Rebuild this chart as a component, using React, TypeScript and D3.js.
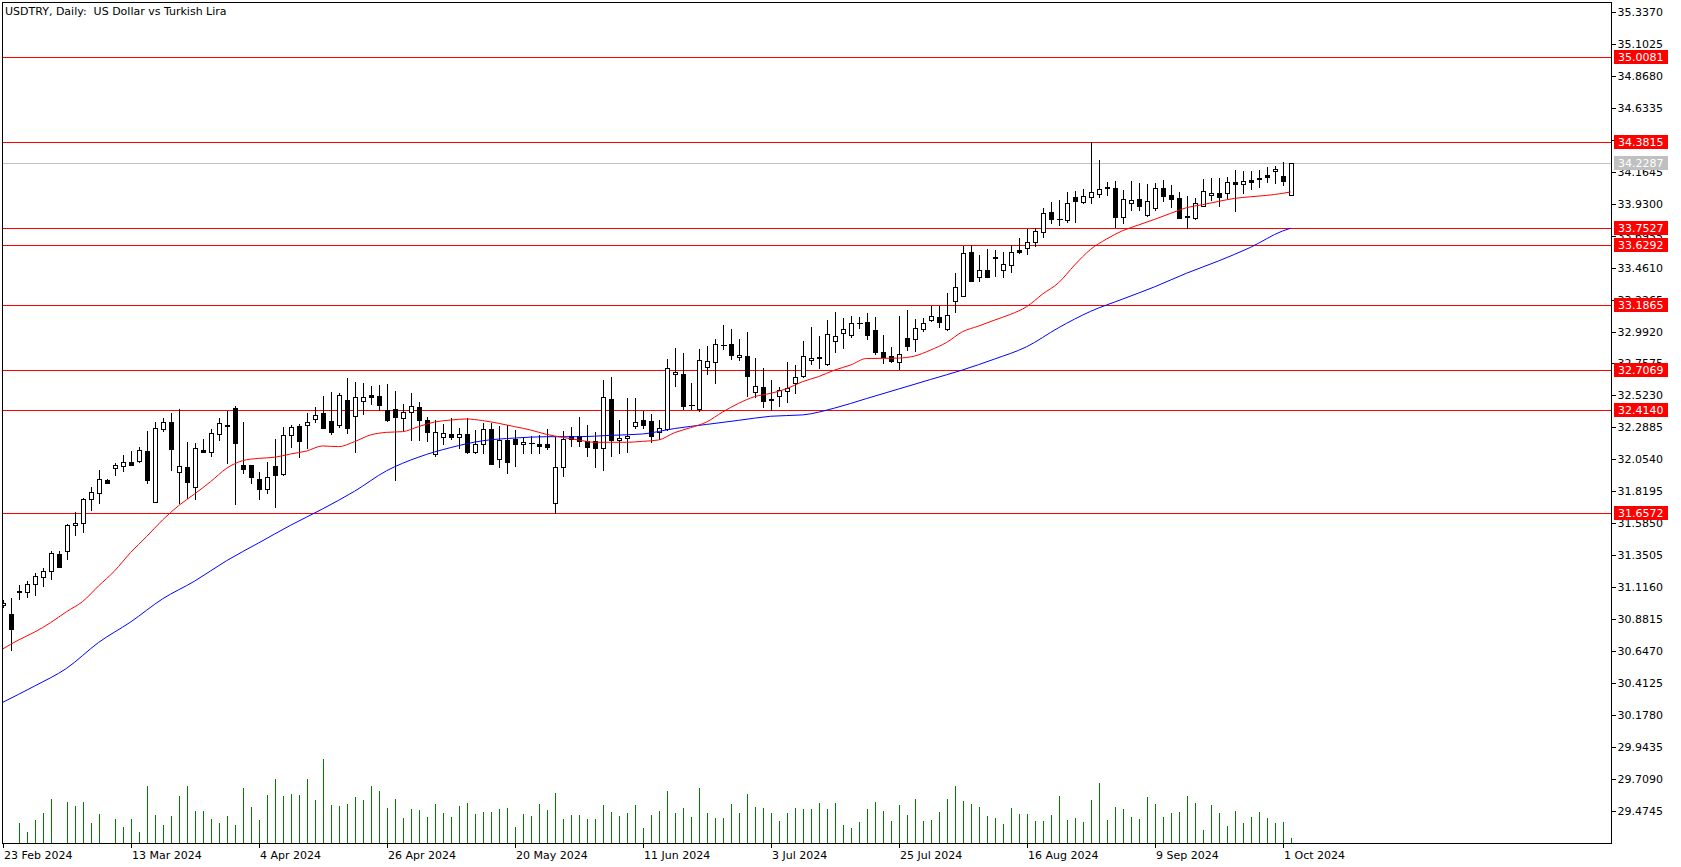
import { useEffect, useRef } from "react";
import * as d3 from "d3";

const title = "USDTRY, Daily:  US Dollar vs Turkish Lira";

// one label every 16 bars, starting at bar 0
const dateLabels = [
  "23 Feb 2024", "13 Mar 2024", "4 Apr 2024", "26 Apr 2024", "20 May 2024", "11 Jun 2024",
  "3 Jul 2024", "25 Jul 2024", "16 Aug 2024", "9 Sep 2024", "1 Oct 2024",
];
const dateStep = 16;

const priceTicks = [
  35.337, 35.1025, 34.868, 34.6335, 34.399, 34.1645, 33.93, 33.6955, 33.461, 33.2265,
  32.992, 32.7575, 32.523, 32.2885, 32.054, 31.8195, 31.585, 31.3505, 31.116, 30.8815,
  30.647, 30.4125, 30.178, 29.9435, 29.709, 29.4745,
];

const levels = [35.0081, 34.3815, 33.7527, 33.6292, 33.1865, 32.7069, 32.414, 31.6572];
const lastPrice = 34.2287;

const open = [
  30.982, 30.919, 31.088, 31.083, 31.137, 31.193, 31.232, 31.357, 31.379, 31.570,
  31.584, 31.761, 31.805, 31.900, 31.988, 32.008, 32.032, 32.044, 32.115, 31.743,
  32.279, 32.328, 31.959, 31.998, 31.849, 32.123, 32.106, 32.238, 32.304, 32.428,
  32.010, 32.010, 31.910, 31.834, 32.003, 31.944, 32.230, 32.296, 32.304, 32.353,
  32.394, 32.336, 32.309, 32.487, 32.370, 32.480, 32.524, 32.517, 32.414, 32.421,
  32.360, 32.399, 32.436, 32.340, 32.095, 32.218, 32.237, 32.215, 32.237, 32.110,
  32.164, 32.274, 32.054, 32.196, 32.203, 32.164, 32.171, 32.164, 32.166, 31.731,
  31.995, 32.223, 32.223, 32.188, 32.188, 32.139, 32.494, 32.193, 32.210, 32.301,
  32.340, 32.333, 32.252, 32.274, 32.678, 32.680, 32.455, 32.426, 32.729, 32.766,
  32.893, 32.900, 32.802, 32.812, 32.548, 32.582, 32.497, 32.516, 32.553, 32.612,
  32.663, 32.780, 32.802, 32.751, 32.920, 32.979, 32.964, 33.057, 33.064, 33.001,
  32.842, 32.815, 32.768, 32.942, 32.935, 33.008, 33.074, 33.096, 33.013, 33.218,
  33.255, 33.573, 33.392, 33.441, 33.536, 33.443, 33.478, 33.588, 33.602, 33.651,
  33.720, 33.869, 33.820, 33.810, 33.977, 33.940, 33.977, 33.999, 34.053, 34.043,
  33.835, 33.933, 33.962, 33.845, 33.901, 34.043, 33.991, 33.972, 33.837, 33.823,
  33.916, 33.991, 34.009, 34.006, 34.089, 34.072, 34.104, 34.116, 34.141, 34.168,
  34.131, 33.996,
];

const high = [
  31.022, 31.039, 31.132, 31.164, 31.217, 31.254, 31.384, 31.384, 31.582, 31.665,
  31.773, 31.854, 31.976, 31.907, 32.030, 32.086, 32.113, 32.142, 32.265, 32.328,
  32.358, 32.397, 32.424, 32.181, 32.172, 32.203, 32.274, 32.355, 32.411, 32.446,
  32.328, 32.012, 31.961, 32.037, 32.206, 32.294, 32.309, 32.311, 32.397, 32.441,
  32.519, 32.548, 32.544, 32.651, 32.622, 32.612, 32.595, 32.597, 32.605, 32.556,
  32.463, 32.539, 32.475, 32.365, 32.345, 32.313, 32.355, 32.284, 32.357, 32.269,
  32.318, 32.318, 32.301, 32.303, 32.269, 32.220, 32.225, 32.230, 32.276, 32.215,
  32.259, 32.289, 32.365, 32.308, 32.257, 32.636, 32.656, 32.342, 32.504, 32.502,
  32.409, 32.389, 32.342, 32.790, 32.871, 32.834, 32.614, 32.864, 32.883, 32.935,
  33.040, 33.010, 32.937, 32.988, 32.798, 32.724, 32.636, 32.582, 32.768, 32.744,
  32.925, 33.027, 32.959, 33.074, 33.133, 33.094, 33.106, 33.101, 33.130, 33.096,
  32.966, 32.876, 33.106, 33.150, 33.084, 33.091, 33.179, 33.179, 33.272, 33.419,
  33.620, 33.629, 33.551, 33.598, 33.590, 33.573, 33.624, 33.681, 33.742, 33.752,
  33.898, 33.943, 33.957, 34.013, 34.023, 34.035, 34.380, 34.251, 34.087, 34.094,
  34.031, 34.097, 34.080, 34.072, 34.084, 34.101, 34.067, 34.016, 33.989, 33.969,
  34.109, 34.119, 34.116, 34.128, 34.177, 34.170, 34.172, 34.180, 34.202, 34.207,
  34.234, 34.2287,
];

const low = [
  30.973, 30.655, 31.027, 31.046, 31.058, 31.125, 31.173, 31.261, 31.325, 31.499,
  31.523, 31.682, 31.736, 31.878, 31.942, 31.971, 32.013, 32.032, 31.883, 31.739,
  32.265, 31.976, 31.736, 31.773, 31.765, 32.104, 32.081, 32.196, 32.030, 31.724,
  31.956, 31.883, 31.765, 31.810, 31.702, 31.942, 32.142, 32.074, 32.135, 32.331,
  32.285, 32.240, 32.289, 32.250, 32.110, 32.387, 32.458, 32.416, 32.336, 31.905,
  32.262, 32.198, 32.194, 32.186, 32.078, 32.166, 32.201, 32.135, 32.103, 32.103,
  32.098, 32.017, 32.000, 31.956, 32.007, 32.098, 32.103, 32.103, 32.127, 31.657,
  31.934, 32.154, 32.154, 32.076, 32.000, 31.978, 32.081, 32.103, 32.110, 32.284,
  32.284, 32.183, 32.201, 32.272, 32.592, 32.426, 32.426, 32.409, 32.680, 32.617,
  32.866, 32.793, 32.783, 32.519, 32.514, 32.440, 32.416, 32.448, 32.475, 32.543,
  32.661, 32.751, 32.727, 32.749, 32.844, 32.869, 32.954, 33.015, 32.939, 32.827,
  32.758, 32.771, 32.714, 32.854, 32.849, 32.998, 33.067, 33.027, 33.001, 33.138,
  33.250, 33.360, 33.365, 33.390, 33.402, 33.390, 33.431, 33.568, 33.558, 33.620,
  33.688, 33.791, 33.776, 33.798, 33.798, 33.935, 33.938, 33.977, 33.994, 33.757,
  33.791, 33.884, 33.884, 33.840, 33.881, 33.952, 33.903, 33.822, 33.749, 33.818,
  33.911, 33.957, 33.916, 33.969, 33.874, 34.006, 34.040, 34.050, 34.092, 34.080,
  34.067, 33.994,
];

const close = [
  31.002, 30.806, 31.078, 31.137, 31.198, 31.235, 31.364, 31.266, 31.572, 31.587,
  31.763, 31.812, 31.907, 31.883, 32.010, 32.032, 32.015, 32.120, 31.905, 32.282,
  32.328, 32.132, 32.003, 31.885, 32.135, 32.106, 32.245, 32.318, 32.301, 32.172,
  31.986, 31.927, 31.834, 31.924, 31.937, 32.230, 32.289, 32.186, 32.326, 32.377,
  32.287, 32.257, 32.526, 32.282, 32.509, 32.509, 32.509, 32.455, 32.340, 32.362,
  32.402, 32.443, 32.340, 32.252, 32.252, 32.245, 32.215, 32.237, 32.110, 32.164,
  32.274, 32.022, 32.196, 32.037, 32.164, 32.179, 32.172, 32.154, 32.147, 31.995,
  32.205, 32.205, 32.191, 32.147, 32.139, 32.509, 32.198, 32.210, 32.223, 32.325,
  32.308, 32.223, 32.281, 32.722, 32.695, 32.445, 32.450, 32.780, 32.773, 32.900,
  32.891, 32.822, 32.817, 32.668, 32.590, 32.484, 32.492, 32.560, 32.575, 32.656,
  32.810, 32.795, 32.800, 32.974, 32.957, 33.008, 33.052, 33.054, 32.969, 32.844,
  32.807, 32.776, 32.829, 32.888, 33.015, 33.052, 33.108, 33.064, 33.113, 33.316,
  33.566, 33.365, 33.441, 33.394, 33.532, 33.485, 33.573, 33.578, 33.646, 33.732,
  33.859, 33.818, 33.815, 33.933, 33.952, 33.984, 34.013, 34.035, 34.048, 33.835,
  33.962, 33.955, 33.916, 33.950, 34.043, 33.989, 33.967, 33.827, 33.832, 33.935,
  34.021, 34.009, 33.977, 34.087, 34.072, 34.094, 34.087, 34.114, 34.128, 34.185,
  34.099, 34.2287,
];

// tick volume, thousands
const volume = [
  0, 0, 20.3, 11.3, 23, 30.3, 44.3, 0, 41.3, 37,
  41.3, 20.3, 29.3, 0, 24, 16.3, 24, 11.3, 57, 28.3,
  18.3, 27.3, 47.3, 57, 32.3, 32.3, 24, 20.3, 27.3, 18.3,
  55, 36.3, 23, 48.3, 64, 47.3, 49, 48.3, 64, 43.3,
  84, 38.3, 37.3, 39.3, 46.3, 43.3, 57, 52, 35.3, 44.3,
  25.3, 34.3, 33.3, 26.3, 39.3, 30.3, 26.3, 37.3, 40.3, 29.3,
  31.3, 31.3, 34.3, 35.3, 16.3, 29.3, 27.3, 39.3, 33.3, 50.3,
  24.3, 28.3, 28.3, 24.3, 24.3, 38.3, 31.3, 27.3, 30.3, 38.3,
  15.3, 28.3, 32.3, 52.3, 30.3, 35.3, 26.3, 55.3, 30.3, 25.3,
  25.3, 39.3, 30.3, 49, 36.3, 35.3, 30.3, 22.3, 30.3, 35.3,
  34.3, 34.3, 40.3, 34.3, 40.3, 18.3, 15.3, 21.3, 34.3, 41.3,
  32.3, 22.3, 38.3, 28.3, 44.3, 22.3, 23.3, 31.3, 44.3, 57.3,
  42.3, 39.3, 36.3, 27.3, 25.3, 19.3, 35.3, 29.3, 29.3, 22.3,
  22.3, 28.3, 47.3, 23.3, 25.3, 21.3, 43.3, 60, 23.3, 36.3,
  34.3, 26.3, 24.3, 46.3, 39.3, 26.3, 30.3, 31.3, 47.3, 40.3,
  13.3, 38.3, 30.3, 17.3, 32.3, 20.3, 26.3, 31.3, 25.3, 20.3,
  21.3, 5.3,
];

// moving averages: [bar, value]
const maFast: [number, number][] = [
  [0, 30.662], [2, 30.728], [4, 30.786], [6, 30.855], [8, 30.936], [10, 31.01], [12, 31.125],
  [14, 31.235], [16, 31.37], [18, 31.487], [20, 31.609], [22, 31.714], [24, 31.8], [26, 31.89],
  [28, 31.988], [30, 32.044], [32, 32.061], [34, 32.069], [36, 32.093], [38, 32.115], [40, 32.152],
  [42, 32.147], [44, 32.184], [46, 32.233], [48, 32.252], [50, 32.257], [52, 32.294], [54, 32.328],
  [56, 32.342], [58, 32.35], [60, 32.338], [62, 32.318], [64, 32.294], [66, 32.269], [68, 32.237],
  [70, 32.215], [72, 32.196], [74, 32.179], [76, 32.179], [78, 32.179], [80, 32.186], [82, 32.196],
  [84, 32.25], [86, 32.286], [88, 32.328], [90, 32.401], [92, 32.465], [94, 32.514], [96, 32.538],
  [98, 32.572], [100, 32.624], [102, 32.661], [104, 32.709], [106, 32.746], [108, 32.794],
  [110, 32.795], [112, 32.797], [114, 32.812], [116, 32.856], [118, 32.912], [120, 32.991],
  [122, 33.032], [124, 33.076], [126, 33.118], [128, 33.174], [130, 33.267], [132, 33.35],
  [134, 33.48], [136, 33.595], [138, 33.671], [140, 33.732], [142, 33.774], [144, 33.815],
  [146, 33.859], [148, 33.901], [150, 33.923], [152, 33.947], [154, 33.969], [156, 33.981],
  [158, 33.991], [160, 34.006], [161, 34.016],
];

const maSlow: [number, number][] = [
  [0, 30.27], [4, 30.39], [8, 30.52], [12, 30.71], [16, 30.86], [20, 31.03], [24, 31.16],
  [28, 31.31], [32, 31.44], [36, 31.57], [40, 31.69], [44, 31.82], [48, 31.97], [52, 32.07],
  [56, 32.14], [60, 32.19], [64, 32.21], [68, 32.22], [72, 32.22], [76, 32.23], [80, 32.24],
  [84, 32.28], [88, 32.31], [92, 32.34], [96, 32.37], [100, 32.38], [104, 32.43], [108, 32.5],
  [112, 32.57], [116, 32.64], [120, 32.71], [124, 32.79], [128, 32.88], [132, 33.02],
  [136, 33.14], [140, 33.23], [144, 33.32], [148, 33.42], [152, 33.51], [156, 33.61],
  [160, 33.73], [161, 33.75],
];

const W = 1681;
const H = 867;
const plot = { left: 2, top: 2, right: 1611, bottom: 843 };
const FONT = "'DejaVu Sans', Verdana, sans-serif";

const x = d3.scaleLinear().domain([0, 161]).range([2.6, 1290.6]);
const y = d3.scaleLinear().domain([35.337, 29.4745]).range([12, 810.77]);
const yVol = d3.scaleLinear().domain([0, 84]).range([plot.bottom, 759]);

const px = (v: number) => Math.round(v) + 0.5;

const App = () => {
  const yAxisRef = useRef<SVGGElement>(null);
  const xAxisRef = useRef<SVGGElement>(null);

  useEffect(() => {
    if (yAxisRef.current) {
      const g = d3.select(yAxisRef.current);
      g.call(
        d3.axisRight(y)
          .tickValues(priceTicks)
          .tickSize(4)
          .tickPadding(2)
          .tickFormat((d) => (d as number).toFixed(4))
      );
      g.select(".domain").remove();
      g.selectAll(".tick line").attr("stroke", "#000").attr("shape-rendering", "crispEdges");
      g.selectAll(".tick text").attr("fill", "#000").style("font", `11px ${FONT}`);
    }
    if (xAxisRef.current) {
      const g = d3.select(xAxisRef.current);
      g.call(
        d3.axisBottom(x)
          .tickValues(dateLabels.map((_, i) => i * dateStep))
          .tickSize(4)
          .tickPadding(4)
          .tickFormat((d) => dateLabels[(d as number) / dateStep])
      );
      g.select(".domain").remove();
      g.selectAll(".tick line").attr("stroke", "#000").attr("shape-rendering", "crispEdges");
      g.selectAll(".tick text")
        .attr("fill", "#000")
        .attr("text-anchor", "start")
        .attr("x", 1)
        .style("font", `11px ${FONT}`);
    }
  }, []);

  const maLine = d3
    .line<[number, number]>()
    .x((d) => x(d[0]))
    .y((d) => y(d[1]))
    .curve(d3.curveMonotoneX);

  const bars = open.map((o, i) => ({ o, h: high[i], l: low[i], c: close[i], v: volume[i], i }));

  return (
    <svg
      width={W}
      height={H}
      style={{ position: "absolute", left: 0, top: 0, background: "#fff", display: "block" }}
    >
      <defs>
        <clipPath id="plotClip">
          <rect x={plot.left + 1} y={plot.top + 1} width={plot.right - plot.left - 1} height={plot.bottom - plot.top - 1} />
        </clipPath>
      </defs>
      <rect x={0} y={0} width={W} height={H} fill="#fff" />

      <g clipPath="url(#plotClip)" shapeRendering="crispEdges">
        {/* volumes */}
        {bars.map((b) =>
          b.v > 0 ? (
            <line
              key={`v${b.i}`}
              x1={px(x(b.i))}
              x2={px(x(b.i))}
              y1={plot.bottom}
              y2={Math.round(yVol(b.v))}
              stroke="#008000"
            />
          ) : null
        )}

        {/* level lines */}
        <line x1={plot.left} x2={plot.right} y1={px(y(lastPrice))} y2={px(y(lastPrice))} stroke="#c0c0c0" />
        {levels.map((lv) => (
          <line key={lv} x1={plot.left} x2={plot.right} y1={px(y(lv))} y2={px(y(lv))} stroke="#ff0000" />
        ))}

        {/* candles */}
        {bars.map((b) => {
          const cx = px(x(b.i));
          const top = Math.round(y(Math.max(b.o, b.c)));
          const bot = Math.round(y(Math.min(b.o, b.c)));
          const bull = b.c >= b.o;
          return (
            <g key={`c${b.i}`}>
              <line x1={cx} x2={cx} y1={Math.round(y(b.h))} y2={Math.round(y(b.l)) + 1} stroke="#000" />
              {bot - top < 1 ? (
                <line x1={cx - 2.5} x2={cx + 3.5} y1={top + 0.5} y2={top + 0.5} stroke="#000" />
              ) : (
                <rect
                  x={cx - 2}
                  y={top + 0.5}
                  width={4}
                  height={bot - top}
                  fill={bull ? "#fff" : "#000"}
                  stroke="#000"
                />
              )}
            </g>
          );
        })}

        {/* moving averages */}
        <g shapeRendering="auto">
          <path d={maLine(maSlow) ?? ""} fill="none" stroke="#0000ff" strokeWidth={1} />
          <path d={maLine(maFast) ?? ""} fill="none" stroke="#ff0000" strokeWidth={1} />
        </g>
      </g>

      {/* frame */}
      <rect
        x={plot.left + 0.5}
        y={plot.top + 0.5}
        width={plot.right - plot.left}
        height={plot.bottom - plot.top}
        fill="none"
        stroke="#000"
        shapeRendering="crispEdges"
      />

      <g ref={yAxisRef} transform={`translate(${plot.right + 0.5},0)`} />
      <g ref={xAxisRef} transform={`translate(0,${plot.bottom + 0.5})`} />

      {/* price labels */}
      {levels.map((lv) => (
        <g key={`lab${lv}`}>
          <rect x={1614} y={Math.round(y(lv)) - 7} width={54} height={14} fill="#ff0000" />
          <text x={1618} y={y(lv)} dy="0.36em" fill="#fff" style={{ font: `11px ${FONT}` }}>
            {lv.toFixed(4)}
          </text>
        </g>
      ))}
      <rect x={1614} y={Math.round(y(lastPrice)) - 7} width={54} height={14} fill="#c0c0c0" />
      <text x={1618} y={y(lastPrice)} dy="0.36em" fill="#fff" style={{ font: `11px ${FONT}` }}>
        {lastPrice.toFixed(4)}
      </text>

      <text x={5} y={15} fill="#000" style={{ font: `11px ${FONT}`, whiteSpace: "pre" }}>
        {title}
      </text>
    </svg>
  );
};

export default App;
